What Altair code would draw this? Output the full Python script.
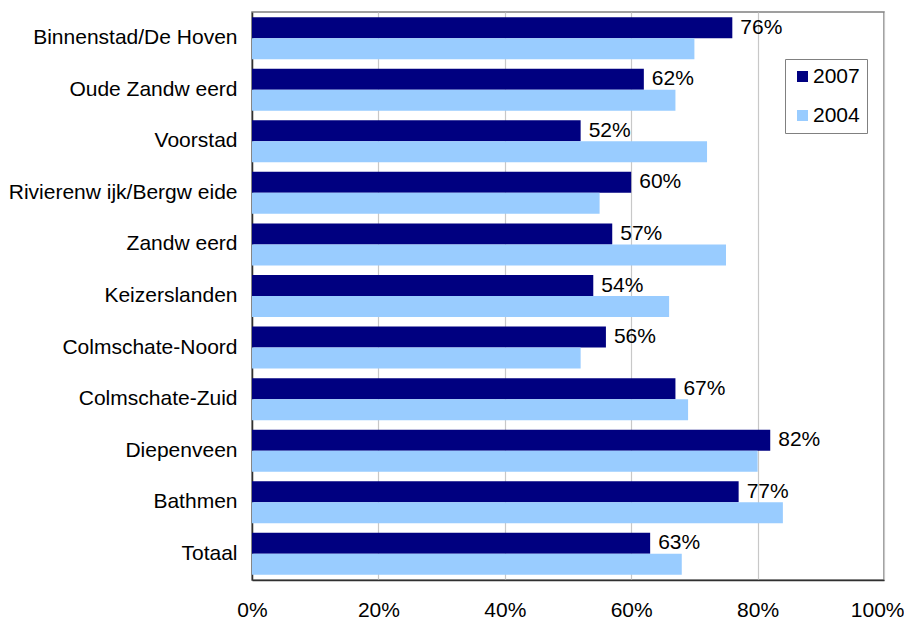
import altair as alt
import pandas as pd

categories = ["Binnenstad/De Hoven", "Oude Zandw eerd", "Voorstad", "Rivierenw ijk/Bergw eide",
              "Zandw eerd", "Keizerslanden", "Colmschate-Noord", "Colmschate-Zuid",
              "Diepenveen", "Bathmen", "Totaal"]
values_2007 = [76, 62, 52, 60, 57, 54, 56, 67, 82, 77, 63]
values_2004 = [70, 67, 72, 55, 75, 66, 52, 69, 80, 84, 68]
years = ["2007", "2004"]
colors = ["#000080", "#99ccff"]
x_ticks = [0, 20, 40, 60, 80, 100]

rows = []
for c, v7, v4 in zip(categories, values_2007, values_2004):
    rows.append({"cat": c, "year": "2007", "value": v7 / 100})
    rows.append({"cat": c, "year": "2004", "value": v4 / 100})
df = pd.DataFrame(rows)
df["label"] = (df["value"] * 100).round().astype(int).astype(str) + "%"

FONT = "Liberation Sans"
FS = 21

y_enc = alt.Y("cat:N", sort=categories, title=None,
              scale=alt.Scale(paddingInner=0.186, paddingOuter=0.1),
              axis=alt.Axis(labelFont=FONT, labelFontSize=FS, labelColor="#000000",
                            labelPadding=15, ticks=False, domainColor="#303030",
                            domainWidth=1.5, labelLimit=300))
yoff = alt.YOffset("year:N", scale=alt.Scale(domain=years, paddingInner=0, paddingOuter=0))
x_enc = alt.X("value:Q", title=None,
              scale=alt.Scale(domain=[0, 1], nice=False, zero=True),
              axis=alt.Axis(values=[t / 100 for t in x_ticks], format=".0%",
                            labelFont=FONT, labelFontSize=FS, labelColor="#000000",
                            labelPadding=19, labelFlush=False, labelOverlap=False,
                            labelAlign={"condition": {"test": "datum.value >= 1", "value": "right"},
                                        "value": "center"},
                            labelOffset={"condition": {"test": "datum.value >= 1", "value": 20},
                                         "value": 0},
                            ticks=False, grid=True, gridColor="#c8c8c8",
                            gridWidth=1.2, domainColor="#303030", domainWidth=1.5))

bars = alt.Chart(df).mark_bar().encode(
    y=y_enc, yOffset=yoff, x=x_enc,
    color=alt.Color("year:N", scale=alt.Scale(domain=years, range=colors), title=None,
                    legend=alt.Legend(orient="none", legendX=533, legendY=47,
                                      labelFont=FONT, labelFontSize=FS, labelColor="#000000",
                                      symbolType="square", symbolSize=121,
                                      symbolStrokeWidth=0, strokeColor="#808080",
                                      padding=7, rowPadding=17, labelOffset=0,
                                      symbolOffset=0)),
)

labels = alt.Chart(df[df["year"] == "2007"]).mark_text(
    align="left", baseline="middle", dx=8, font=FONT, fontSize=FS, color="#000000"
).encode(y=alt.Y("cat:N", sort=categories), yOffset=alt.YOffset("year:N"),
         x="value:Q", text="label:N")

chart = (bars + labels).properties(
    width=632, height=568,
    autosize=alt.AutoSizeParams(type="none"),
    padding={"left": 244, "top": 4, "right": 20, "bottom": 40},
).configure_view(stroke="#808080", strokeWidth=1.5)

chart.save("out.html", embed_options={"renderer": "svg", "actions": False})
